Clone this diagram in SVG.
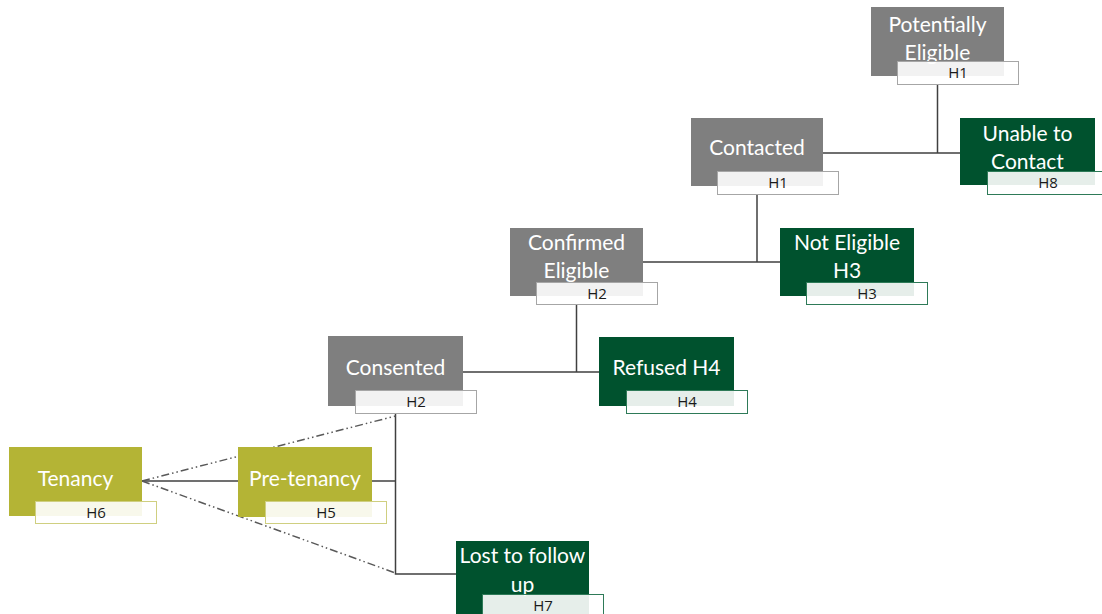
<svg xmlns="http://www.w3.org/2000/svg" width="1102" height="614" viewBox="0 0 1102 614">
<style>
.g{fill:#7f7f7f}
.d{fill:#00522e}
.o{fill:#b4b435}
.t{font-family:Lato,"Open Sans",sans-serif;font-size:21px;fill:#ffffff;text-anchor:middle}
.l{font-family:"Open Sans","Liberation Sans",sans-serif;font-size:15px;fill:#1a1a1a;text-anchor:middle}
.lg{fill:#ffffff;fill-opacity:0.9;stroke:#a6a6a6;stroke-width:1}
.ld{fill:#ffffff;fill-opacity:0.9;stroke:#2e7a58;stroke-width:1}
.lo{fill:#ffffff;fill-opacity:0.9;stroke:#cfcf80;stroke-width:1}
.c{stroke:#404040;stroke-width:1.5;fill:none}
.dd{stroke:#595959;stroke-width:1.5;fill:none;stroke-dasharray:8 3 1.5 3 1.5 3}
</style>
<rect width="1102" height="614" fill="#ffffff"/>
<g id="connectors">
<path class="c" d="M937.5 85 V153 M823 153 H960"/>
<path class="c" d="M757 195 V262 M643 262 H780"/>
<path class="c" d="M576.5 304 V372 M463 372 H599"/>
<path class="c" d="M395.5 414 V574 H456"/>
<path class="c" d="M372 481 H395.5"/>
<path class="c" d="M142 481 H238"/>
<path class="dd" d="M142 481 L395.5 416"/>
<path class="dd" d="M142 481 L395.5 573"/>
</g>
<g id="potentially-eligible">
<rect class="g" x="871" y="7" width="133" height="69"/>
<text class="t" x="937.5" y="32">Potentially</text>
<text class="t" x="937.5" y="60">Eligible</text>
<rect class="lg" x="897.5" y="61.5" width="121" height="23"/>
<text class="l" x="958" y="78">H1</text>
</g>
<g id="unable-to-contact">
<rect class="d" x="960" y="118" width="135" height="67"/>
<text class="t" x="1027.5" y="141">Unable to</text>
<text class="t" x="1027.5" y="169">Contact</text>
<rect class="ld" x="987.5" y="171.5" width="121" height="23"/>
<text class="l" x="1048" y="188">H8</text>
</g>
<g id="contacted">
<rect class="g" x="691" y="118" width="132" height="68"/>
<text class="t" x="757" y="155">Contacted</text>
<rect class="lg" x="717.5" y="171.5" width="121" height="23"/>
<text class="l" x="778" y="188">H1</text>
</g>
<g id="confirmed-eligible">
<rect class="g" x="510" y="228" width="133" height="68"/>
<text class="t" x="576.5" y="250">Confirmed</text>
<text class="t" x="576.5" y="278">Eligible</text>
<rect class="lg" x="536.5" y="282.5" width="121" height="22"/>
<text class="l" x="597" y="299">H2</text>
</g>
<g id="not-eligible">
<rect class="d" x="780" y="228" width="134" height="68"/>
<text class="t" x="847" y="250">Not Eligible</text>
<text class="t" x="847" y="278">H3</text>
<rect class="ld" x="806.5" y="282.5" width="121" height="22"/>
<text class="l" x="867" y="299">H3</text>
</g>
<g id="consented">
<rect class="g" x="328" y="336" width="135" height="70"/>
<text class="t" x="395.5" y="375">Consented</text>
<rect class="lg" x="355.5" y="390.5" width="121" height="23"/>
<text class="l" x="416" y="407">H2</text>
</g>
<g id="refused">
<rect class="d" x="599" y="337" width="135" height="69"/>
<text class="t" x="666.5" y="375">Refused H4</text>
<rect class="ld" x="626.5" y="390.5" width="121" height="23"/>
<text class="l" x="687" y="407">H4</text>
</g>
<g id="tenancy">
<rect class="o" x="9" y="447" width="133" height="69"/>
<text class="t" x="75.5" y="486">Tenancy</text>
<rect class="lo" x="35.5" y="501.5" width="121" height="22"/>
<text class="l" x="96" y="518">H6</text>
</g>
<g id="pre-tenancy">
<rect class="o" x="238" y="447" width="134" height="70"/>
<text class="t" x="305" y="486">Pre-tenancy</text>
<rect class="lo" x="265.5" y="501.5" width="121" height="22"/>
<text class="l" x="326" y="518">H5</text>
</g>
<g id="lost-to-follow-up">
<rect class="d" x="456" y="541" width="133" height="75"/>
<text class="t" x="522.5" y="563">Lost to follow</text>
<text class="t" x="522.5" y="592">up</text>
<rect class="ld" x="482.5" y="594.5" width="121" height="23"/>
<text class="l" x="543" y="611">H7</text>
</g>
</svg>
